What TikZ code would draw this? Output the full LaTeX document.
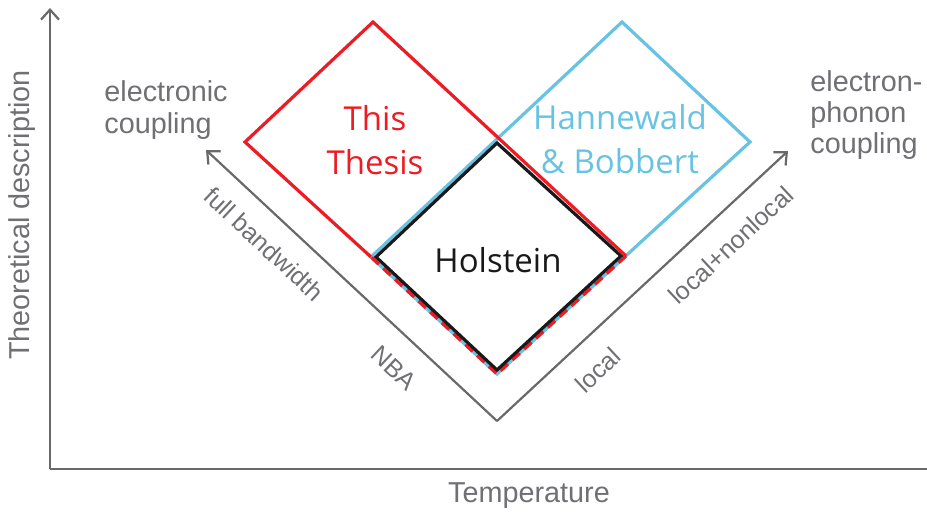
\documentclass[tikz,border=0pt]{standalone}
\usepackage{fontspec}
\setmainfont{Liberation Sans}
\newfontfamily\comicfont{Open Sans}
\usetikzlibrary{arrows.meta}
\definecolor{thesisred}{RGB}{237,28,36}
\definecolor{hbblue}{RGB}{104,195,226}
\definecolor{axisgray}{RGB}{105,105,105}
\definecolor{labelgray}{RGB}{112,112,116}
\tikzset{
  axisline/.style={axisgray, line width=1.1pt},
  tipped/.style={-{Straight Barb[length=5pt,width=9pt]}},
  regime/.style={line width=1.6pt, line join=miter},
  gtext/.style={labelgray, font=\fontsize{14.4}{15.7}\selectfont, align=left, inner sep=0pt},
  slanted/.style={labelgray, font=\fontsize{12.5}{14}\selectfont, inner sep=0pt},
  theory/.style={font=\comicfont\fontsize{16.5}{22}\selectfont, align=center, inner sep=0pt},
}
\begin{document}
\begin{tikzpicture}[x=0.5pt,y=-0.5pt]
\useasboundingbox (0,0) rectangle (927,512);
\coordinate (origin) at (50,469);
\coordinate (ytop) at (50,8);
\coordinate (xend) at (927,469);
\draw[axisline, tipped] (origin) -- (ytop);
\draw[axisline] (origin) -- (xend);
\node[gtext, rotate=90] (ylabel) at (22,215) {Theoretical description};
\node[gtext] (xlabel) at (529,496) {Temperature};

\coordinate (vbot) at (497,421);
\coordinate (vleft) at (206,150);
\coordinate (vright) at (788,151);
\draw[axisline, tipped] (vbot) -- (vleft);
\draw[axisline, tipped] (vbot) -- (vright);

\coordinate (btop) at (622,22);
\coordinate (bright) at (750,142);
\coordinate (bbot) at (497,374);
\coordinate (bleft) at (371,257);
\coordinate (rtop) at (373,22);
\coordinate (rleft) at (245,142);
\coordinate (rright) at (626,256);
\coordinate (htop) at (497,143);
\coordinate (hright) at (621,256);
\coordinate (hbot) at (497,370);
\coordinate (hleft) at (376,257);

\draw[regime, hbblue] (bleft) -- (btop) -- (bright) -- (bbot) -- cycle;
\draw[regime, thesisred] (bleft) -- (rleft) -- (rtop) -- (rright);
\draw[regime, thesisred, dash pattern=on 5pt off 3pt] (rright) -- (bbot) -- (bleft);
\draw[regime, black!90] (htop) -- (hright) -- (hbot) -- (hleft) -- cycle;

\node[theory, thesisred] (thesis) at (375,140) {This\\Thesis};
\node[theory, hbblue] (hb) at (620,139) {Hannewald\\\& Bobbert};
\node[theory, black!90] (holst) at (498,260) {Holstein};

\node[gtext, anchor=west] (elec) at (104,110) {electronic\\coupling};
\node[gtext, anchor=west] (ephon) at (810,115) {electron-\\phonon\\coupling};
\node[slanted, rotate=-43] (fullbw) at (264,244) {full bandwidth};
\node[slanted, rotate=-43] (nba) at (394,368) {NBA};
\node[slanted, rotate=43] (loc) at (598,370) {local};
\node[slanted, rotate=43] (locnl) at (731,245) {local+nonlocal};
\end{tikzpicture}
\end{document}
